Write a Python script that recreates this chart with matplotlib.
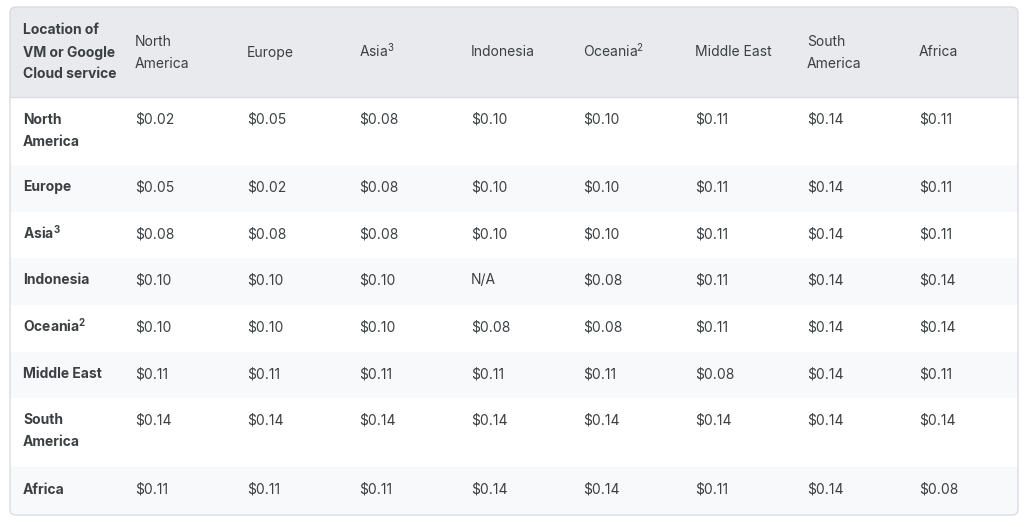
import matplotlib
matplotlib.use("Agg")
import matplotlib.pyplot as plt
from matplotlib.patches import FancyBboxPatch, Rectangle

plt.rcParams['font.family'] = ['Inter', 'DejaVu Sans']
plt.rcParams['mathtext.fontset'] = 'custom'
plt.rcParams['mathtext.rm'] = 'Inter'
plt.rcParams['mathtext.bf'] = 'Inter:bold'

header_title = "Location of\nVM or Google\nCloud service"
columns = ["North\nAmerica", "Europe", "Asia$^3$", "Indonesia", "Oceania$^2$",
           "Middle East", "South\nAmerica", "Africa"]
row_labels = ["North\nAmerica", "Europe", r"Asia$^\mathbf{3}$", "Indonesia",
              r"Oceania$^\mathbf{2}$", "Middle East", "South\nAmerica", "Africa"]
values = [
    ["$0.02", "$0.05", "$0.08", "$0.10", "$0.10", "$0.11", "$0.14", "$0.11"],
    ["$0.05", "$0.02", "$0.08", "$0.10", "$0.10", "$0.11", "$0.14", "$0.11"],
    ["$0.08", "$0.08", "$0.08", "$0.10", "$0.10", "$0.11", "$0.14", "$0.11"],
    ["$0.10", "$0.10", "$0.10", "N/A", "$0.08", "$0.11", "$0.14", "$0.14"],
    ["$0.10", "$0.10", "$0.10", "$0.08", "$0.08", "$0.11", "$0.14", "$0.14"],
    ["$0.11", "$0.11", "$0.11", "$0.11", "$0.11", "$0.08", "$0.14", "$0.11"],
    ["$0.14", "$0.14", "$0.14", "$0.14", "$0.14", "$0.14", "$0.14", "$0.14"],
    ["$0.11", "$0.11", "$0.11", "$0.14", "$0.14", "$0.11", "$0.14", "$0.08"],
]

W, H = 1024, 527
fig = plt.figure(figsize=(W/100, H/100), dpi=100)
ax = fig.add_axes([0, 0, 1, 1])
ax.set_xlim(0, W); ax.set_ylim(H, 0); ax.axis('off')

x0, x1, y0, y1 = 10, 1018, 7, 515
row_edges = [97, 165, 212, 258, 305, 352, 398, 467, 515]
col_x = [23] + [135 + 112*i for i in range(8)]
fs = 10
tc = '#3c4043'
LS = 22  # line step in px

def draw_lines(x, y_first_center, s, bold=False):
    for k, line in enumerate(s.split('\n')):
        ax.text(x, y_first_center + k*LS + 4.5, line, fontsize=fs,
                fontweight='bold' if bold else 'normal', color=tc,
                va='baseline', ha='left')

ax.add_patch(FancyBboxPatch((x0, y0), x1-x0, row_edges[0]-y0,
             boxstyle="round,pad=0,rounding_size=6", fc='#e8eaed', ec='none'))
ax.add_patch(Rectangle((x0, 60), x1-x0, row_edges[0]-60, fc='#e8eaed', ec='none'))
for i in range(8):
    top, bot = row_edges[i], row_edges[i+1]
    c = 'white' if i % 2 == 0 else '#f8f9fa'
    if i == 7:
        ax.add_patch(FancyBboxPatch((x0, top), x1-x0, bot-top,
                     boxstyle="round,pad=0,rounding_size=6", fc=c, ec='none'))
        ax.add_patch(Rectangle((x0, top), x1-x0, 20, fc=c, ec='none'))
    else:
        ax.add_patch(Rectangle((x0, top), x1-x0, bot-top, fc=c, ec='none'))
ax.plot([x0, x1], [row_edges[0], row_edges[0]], color='#dadce0', lw=1)
ax.add_patch(FancyBboxPatch((x0, y0), x1-x0, y1-y0,
             boxstyle="round,pad=0,rounding_size=6", fc='none', ec='#dadce0', lw=1))

hc = (y0 + row_edges[0]) / 2
def header_start(s):
    n = s.count('\n') + 1
    return hc - (n-1)*LS/2
draw_lines(col_x[0], header_start(header_title), header_title, bold=True)
for j, c in enumerate(columns):
    draw_lines(col_x[j+1], header_start(c), c)

for i in range(8):
    ty = row_edges[i] + 22
    draw_lines(col_x[0], ty, row_labels[i], bold=True)
    for j in range(8):
        draw_lines(col_x[j+1], ty, values[i][j].replace('$', r'\$'))

fig.savefig('out.png', dpi=100)
